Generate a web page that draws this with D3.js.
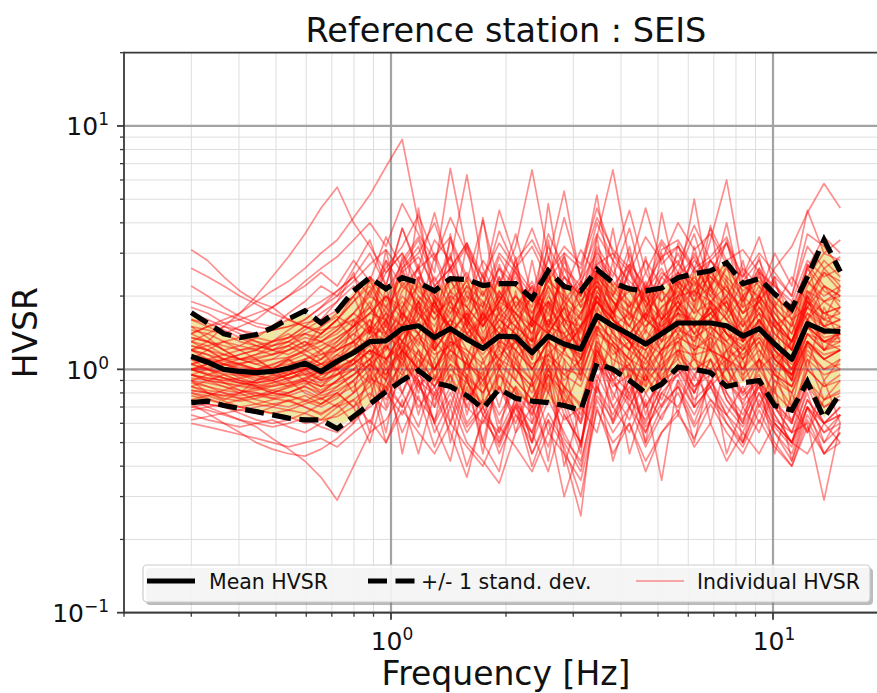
<!DOCTYPE html>
<html><head><meta charset="utf-8">
<script src="https://cdn.jsdelivr.net/npm/d3@7"></script>
<style>body{margin:0;background:#fff} svg{display:block;font-family:"DejaVu Sans",sans-serif}</style>
</head><body><svg id="c" width="877" height="693"></svg>
<script>
const freqs = [0.300,0.331,0.365,0.402,0.444,0.489,0.539,0.595,0.656,0.723,
0.798,0.880,0.970,1.07,1.18,1.30,1.43,1.58,1.74,1.92,
2.12,2.34,2.58,2.84,3.14,3.46,3.81,4.21,4.64,5.11,
5.64,6.22,6.86,7.56,8.34,9.20,10.1,11.2,12.3,13.6,15.0];

const meanHVSR = [1.13,1.07,1.00,0.98,0.97,0.98,1.01,1.06,0.98,1.08,
1.17,1.30,1.31,1.47,1.51,1.35,1.47,1.33,1.22,1.37,
1.36,1.17,1.37,1.27,1.21,1.66,1.51,1.39,1.27,1.40,
1.55,1.55,1.55,1.51,1.37,1.47,1.27,1.10,1.54,1.44,1.43];

const stdUpper = [1.71,1.55,1.40,1.35,1.39,1.48,1.61,1.74,1.55,1.74,
2.10,2.38,2.14,2.38,2.27,2.10,2.36,2.34,2.21,2.25,
2.25,1.95,2.54,2.19,2.10,2.57,2.27,2.14,2.10,2.16,
2.38,2.47,2.54,2.74,2.25,2.36,2.04,1.77,2.40,3.41,2.52];

const stdLower = [0.73,0.74,0.71,0.69,0.67,0.65,0.63,0.62,0.62,0.57,
0.64,0.72,0.81,0.90,0.99,0.88,0.85,0.78,0.69,0.83,
0.76,0.74,0.73,0.71,0.68,1.06,1.00,0.90,0.80,0.87,
1.02,1.00,0.97,0.85,0.88,0.90,0.71,0.68,0.89,0.63,0.80];

const individualHVSR = [
[1.4,1.5,1.6,1.7,1.9,2.1,2.3,2.6,3.0,3.4, 4.2,5.2,6.8,8.8,4.0,2.2,2.6,1.8,1.5,2.0, 1.6,1.2,1.9,1.4,1.0,2.1,1.7,1.3,1.1,1.6, 1.9,1.4,1.8,1.3,1.0,1.5,1.2,0.9,1.6,1.3,1.2],
[1.2,1.3,1.5,1.7,2.0,2.4,2.9,3.6,4.6,5.6, 4.0,3.2,2.5,3.0,2.1,1.8,2.4,1.5,1.9,1.3, 1.7,2.2,1.4,1.8,1.2,2.5,1.9,1.5,2.1,1.3, 1.8,2.3,1.6,2.0,1.4,1.7,1.1,1.3,2.0,1.5,1.8],
[3.1,2.8,2.4,2.1,1.9,1.8,1.6,1.5,1.4,1.6, 1.9,2.3,1.8,2.6,3.2,2.0,1.6,2.4,1.4,1.9, 2.8,1.5,2.1,1.2,1.7,2.4,1.6,3.0,1.9,1.4, 2.2,1.7,2.6,1.9,1.3,2.0,1.6,1.2,1.8,2.5,2.1],
[0.75,0.70,0.66,0.62,0.58,0.52,0.47,0.42,0.36,0.29, 0.40,0.55,0.62,0.80,0.58,0.95,0.70,1.10,0.65,0.85, 0.60,0.90,0.55,0.75,0.48,1.10,0.80,0.62,0.95,0.70, 1.00,0.75,0.88,1.20,0.70,0.85,0.62,0.55,0.90,0.70,0.78],
[0.95,0.90,0.88,0.85,0.83,0.86,0.90,0.80,0.75,0.85, 0.95,1.10,0.90,1.30,0.85,1.00,1.40,0.75,0.95,0.60, 0.85,0.50,1.10,0.45,0.25,0.90,1.30,0.70,1.00,0.85, 1.20,0.90,1.50,1.00,0.80,1.10,0.75,0.60,1.00,0.85,0.95],
[1.0,0.95,0.92,0.90,0.88,0.92,0.98,1.05,1.10,1.20, 1.40,1.25,1.60,1.30,1.80,1.50,2.10,1.40,1.70,2.40, 1.60,2.00,1.50,2.80,1.90,2.30,1.70,2.60,1.80,2.20, 3.00,2.10,2.50,3.30,2.20,2.00,2.60,3.20,4.40,5.80,4.60],
[0.85,0.82,0.80,0.78,0.80,0.76,0.74,0.78,0.72,0.80, 0.90,1.05,0.95,1.20,1.00,0.85,1.15,0.90,0.70,1.00, 0.80,0.65,0.95,0.75,0.60,1.20,0.90,1.05,0.70,0.95, 1.10,0.85,1.00,0.80,0.65,0.90,0.70,0.55,0.60,0.29,0.60],
[1.3,1.2,1.1,1.15,1.2,1.3,1.4,1.25,1.5,1.7, 2.0,2.4,1.9,2.8,3.5,2.5,6.7,3.0,2.0,2.6, 1.8,2.2,1.5,1.9,1.3,2.1,1.6,1.2,1.8,1.4, 2.0,1.5,1.8,1.4,1.1,1.6,1.3,1.0,1.5,1.2,1.4],
[1.6,1.5,1.4,1.3,1.25,1.2,1.3,1.45,1.6,1.9, 2.2,1.8,2.5,3.0,2.3,3.4,2.8,6.3,2.6,1.9, 2.4,1.6,2.9,1.8,1.5,2.7,2.0,1.7,2.3,1.6, 2.5,1.9,2.2,1.6,1.3,1.8,1.5,1.2,1.9,1.6,1.7],
[0.9,0.95,1.0,1.05,1.1,1.0,0.95,1.1,1.2,1.3, 1.5,1.8,1.4,2.1,2.6,1.7,2.3,1.9,2.8,2.2, 3.2,6.6,2.9,2.1,1.6,2.8,2.2,1.8,2.5,1.9, 2.4,2.9,2.0,1.7,2.3,1.8,1.4,1.2,2.1,1.7,1.6],
[1.1,1.05,1.0,0.95,0.9,0.95,1.0,0.9,0.85,0.95, 1.1,1.3,1.6,1.2,1.9,1.4,1.7,2.2,1.5,1.9, 2.5,1.7,2.3,2.9,2.0,3.5,6.6,2.8,2.1,2.6, 1.9,2.6,2.1,1.8,1.4,2.0,1.6,1.3,1.9,1.5,1.4],
[1.2,1.15,1.05,1.0,1.0,1.05,1.1,1.0,1.05,1.15, 1.3,1.5,1.2,1.7,1.4,1.9,1.5,1.3,1.6,2.0, 1.7,1.4,2.2,1.6,1.9,2.5,1.8,2.1,1.6,2.4, 2.8,2.0,3.4,6.0,2.5,1.9,2.3,1.6,1.8,2.2,2.0],
[0.7,0.68,0.65,0.62,0.60,0.58,0.60,0.63,0.58,0.55, 0.62,0.70,0.80,0.65,0.90,0.55,0.75,0.50,0.42,0.34, 0.55,0.70,0.48,0.85,0.60,0.95,0.70,0.55,0.80,0.62, 0.90,0.70,0.85,0.60,0.50,0.75,0.58,0.48,0.70,0.55,0.65],
[0.8,0.78,0.74,0.70,0.68,0.66,0.64,0.60,0.62,0.70, 0.80,0.95,0.75,1.00,0.70,0.85,0.60,0.90,0.65,0.55, 0.75,0.45,0.62,0.30,0.50,0.85,0.65,0.90,0.55,0.80, 0.70,0.95,0.75,0.65,0.85,0.60,0.90,0.70,0.55,0.75,0.80],
[1.0,1.0,0.98,0.96,0.94,0.92,0.95,1.0,1.05,1.1, 1.2,1.35,1.5,1.3,1.7,1.4,1.2,1.6,1.3,1.5, 1.2,1.6,1.9,1.3,1.1,1.8,1.4,1.2,1.5,1.7, 1.4,1.8,1.5,1.3,1.6,1.2,1.0,1.3,1.7,1.4,1.5],
[1.25,1.2,1.1,1.05,1.0,0.98,1.0,1.05,0.95,1.0, 1.05,1.2,1.1,1.4,1.6,1.2,1.5,1.0,1.3,1.1, 1.5,1.0,1.3,1.6,1.2,2.0,1.5,1.3,1.0,1.4, 1.6,1.3,1.9,1.4,1.2,1.5,1.1,0.9,1.4,1.2,1.3],
[0.9,0.85,0.82,0.80,0.82,0.85,0.88,0.92,0.88,0.95, 1.0,1.1,1.25,1.1,1.4,1.0,1.3,1.15,0.9,1.2, 1.0,0.85,1.2,0.95,1.1,1.5,1.2,1.0,0.85,1.1, 1.3,1.1,1.0,1.2,0.9,1.1,0.95,0.8,1.2,1.0,1.1],
[2.2,2.0,1.8,1.65,1.55,1.5,1.6,1.75,1.9,2.1, 2.4,2.0,2.8,2.2,2.6,3.0,2.1,2.5,1.8,2.9, 2.2,1.9,2.6,2.1,3.1,2.4,2.0,2.7,2.2,2.9, 3.2,2.5,2.8,2.3,1.9,2.6,2.0,1.7,2.4,3.0,2.8],
[0.62,0.64,0.66,0.68,0.70,0.72,0.74,0.70,0.66,0.72, 0.80,0.92,0.85,1.05,0.90,0.78,1.00,0.88,0.72,0.95, 0.82,0.70,0.95,0.80,0.65,1.05,0.88,0.75,0.62,0.85, 0.95,1.10,0.85,1.00,0.78,0.90,0.72,0.62,0.85,0.70,0.75],
[1.45,1.4,1.3,1.25,1.2,1.15,1.2,1.3,1.2,1.35, 1.5,1.7,1.6,1.9,1.5,1.3,1.8,1.5,1.2,1.6, 1.4,1.1,1.6,1.4,1.7,2.2,1.7,1.5,1.3,1.8, 2.1,1.7,1.9,1.6,1.4,1.7,1.3,1.1,1.6,1.9,1.7],
[1.1,1.0,0.92,0.88,0.85,0.82,0.80,0.85,0.78,0.82, 0.9,1.05,1.2,1.5,1.3,1.1,1.4,1.7,1.3,1.0, 1.3,1.0,0.8,1.2,1.5,1.9,1.6,1.3,1.1,1.4, 1.7,1.4,1.2,1.5,1.1,1.3,0.95,0.85,1.3,1.1,1.2],
[1.05,1.1,1.15,1.2,1.25,1.3,1.35,1.5,1.4,1.6, 1.9,2.2,1.7,2.5,2.0,1.6,2.1,1.8,2.4,1.7, 2.0,1.6,2.4,1.9,1.6,2.9,2.3,1.9,1.6,2.2, 2.5,2.2,2.8,2.4,2.0,2.3,1.8,1.5,2.6,2.1,1.9],
[0.78,0.75,0.72,0.70,0.72,0.75,0.78,0.82,0.76,0.70, 0.75,0.85,1.00,0.80,1.10,0.75,0.95,0.70,0.60,0.85, 0.65,0.55,0.80,0.62,0.70,1.15,0.85,0.95,0.70,0.90, 1.00,0.80,1.10,0.75,0.62,0.85,0.65,0.50,0.75,0.60,0.70],
[1.35,1.3,1.2,1.1,1.05,1.1,1.2,1.3,1.15,1.25, 1.4,1.6,1.35,1.8,2.2,1.7,1.9,1.4,1.6,2.1, 1.7,1.4,2.0,1.6,1.3,2.0,1.7,2.2,1.6,1.4, 1.8,2.1,1.7,1.9,1.5,1.8,1.4,1.2,1.7,1.5,1.6],
[0.72,0.66,0.60,0.55,0.50,0.47,0.45,0.44,0.47,0.52, 0.60,0.72,0.85,0.70,0.95,0.80,1.05,0.75,0.90,0.65, 0.85,0.70,1.00,0.78,0.62,1.20,0.90,0.70,0.95,0.75, 1.05,0.85,0.95,1.10,0.80,0.95,0.70,0.60,0.90,0.75,0.82],
[1.7,1.6,1.5,1.45,1.4,1.45,1.5,1.6,1.8,2.0, 2.3,2.7,3.1,2.5,2.9,2.2,2.6,3.3,2.4,2.0, 2.6,2.1,1.8,2.4,2.0,3.2,2.5,2.1,2.8,2.2, 2.7,2.3,2.0,2.6,2.1,2.4,1.9,1.6,2.3,2.0,2.2],
[0.95,0.92,0.90,0.92,0.95,1.0,1.08,1.15,1.05,1.2, 1.3,1.15,1.4,1.2,1.0,1.3,1.1,1.5,1.2,1.35, 1.1,1.35,1.0,1.2,0.95,1.4,1.25,1.05,1.3,1.15, 1.4,1.2,1.35,1.1,1.25,1.0,1.15,0.9,1.3,1.1,1.2],
[1.15,1.1,1.05,1.1,1.15,1.2,1.25,1.15,1.05,1.0, 1.1,1.3,1.05,1.5,1.2,1.0,1.35,1.1,0.85,1.3, 1.0,0.8,1.15,0.9,1.1,1.6,1.3,1.1,0.9,1.2, 1.5,1.2,1.4,1.25,1.0,1.3,1.0,0.85,1.25,1.1,1.0],
[1.9,1.8,1.7,1.6,1.5,1.45,1.5,1.55,1.6,1.75, 2.0,2.4,2.1,2.7,3.4,2.3,2.9,2.0,1.8,2.6, 2.2,1.8,3.2,2.4,2.0,2.7,3.0,2.2,1.9,2.5, 2.2,2.8,2.4,2.0,2.6,2.2,1.8,1.5,2.2,2.8,2.4],
[0.68,0.70,0.72,0.75,0.78,0.80,0.84,0.88,0.82,0.90, 1.0,0.88,1.1,0.95,1.2,0.85,1.05,0.92,0.80,1.1, 0.90,0.75,1.05,0.85,0.72,1.25,0.95,0.80,1.10,0.90, 1.15,0.95,1.20,0.90,0.72,1.00,0.80,0.68,1.00,0.85,0.90],
[1.0,1.05,1.1,1.1,1.05,1.0,1.1,1.2,1.3,1.45, 1.7,2.1,2.6,3.2,4.3,2.9,3.5,2.4,2.0,3.0, 2.5,2.0,3.6,2.6,2.2,4.0,2.8,2.3,2.0,3.1, 3.4,2.6,2.9,3.5,2.3,2.8,2.0,1.7,2.7,2.2,2.0],
[0.88,0.85,0.80,0.76,0.72,0.70,0.68,0.66,0.62,0.64, 0.70,0.80,0.68,0.95,0.75,0.62,0.85,0.58,0.70,0.52, 0.72,0.60,0.88,0.52,0.42,0.78,0.62,0.85,0.58,0.72, 0.85,0.65,0.90,0.70,0.58,0.80,0.55,0.45,0.70,0.55,0.60],
[1.3,1.25,1.15,1.1,1.1,1.15,1.25,1.4,1.3,1.2, 1.3,1.45,1.7,1.5,1.9,2.4,1.8,1.6,2.1,1.5, 1.9,1.6,1.4,1.8,2.3,1.9,1.6,1.4,1.7,2.1, 1.8,1.5,1.7,2.0,1.6,1.9,1.5,1.3,1.8,1.6,1.5],
[0.82,0.80,0.78,0.76,0.78,0.82,0.86,0.92,0.98,1.05, 1.15,1.3,1.1,1.25,1.0,1.35,1.6,1.2,1.05,1.4, 1.2,1.0,1.3,1.1,0.9,1.5,1.15,1.3,0.95,1.2, 1.3,1.5,1.2,1.0,1.2,1.35,1.05,0.95,1.4,1.2,1.25],
[1.5,1.45,1.4,1.5,1.6,1.8,2.0,2.3,2.6,2.9, 3.4,4.0,3.2,4.8,3.6,2.8,4.2,3.0,2.4,3.3, 2.6,3.8,2.5,3.2,2.7,4.6,3.0,2.5,3.5,2.8, 4.0,3.1,3.6,2.7,2.4,3.0,2.5,2.0,3.2,2.6,2.9],
[0.60,0.58,0.56,0.54,0.52,0.50,0.48,0.50,0.52,0.48, 0.55,0.62,0.50,0.68,0.55,0.45,0.60,0.48,0.40,0.58, 0.48,0.38,0.55,0.45,0.35,0.68,0.50,0.60,0.42,0.55, 0.65,0.52,0.72,0.55,0.45,0.62,0.48,0.40,0.58,0.45,0.50],
[1.2,1.15,1.1,1.05,1.0,0.95,0.92,0.95,1.0,1.08, 1.2,1.1,1.35,1.6,1.25,1.9,1.4,1.7,1.3,1.6, 1.4,1.25,1.7,1.35,1.5,1.9,1.5,1.7,1.3,1.6, 1.9,1.5,1.7,1.4,1.3,1.6,1.2,1.0,1.5,1.3,1.4],
[1.0,0.96,0.92,0.88,0.86,0.88,0.92,0.96,0.90,0.95, 1.05,1.2,0.95,1.3,1.1,0.9,1.2,1.05,0.95,1.25, 1.05,0.9,1.15,1.35,1.0,1.6,1.3,1.1,1.45,1.2, 1.5,1.3,1.6,1.2,1.1,1.4,1.1,0.95,1.3,1.1,1.2],
[1.1,1.08,1.05,1.02,1.0,1.02,1.05,1.1,1.15,1.2, 1.3,1.5,1.4,1.7,1.5,1.3,1.6,1.4,1.2,1.5, 1.3,1.6,1.4,1.2,1.5,2.0,1.6,1.4,1.7,1.5, 1.9,1.6,2.2,1.8,1.5,1.9,2.4,2.0,3.6,3.2,2.6],
[0.95,0.92,0.9,0.88,0.86,0.85,0.88,0.9,0.85,0.88, 0.95,1.05,0.9,1.2,1.0,0.85,1.1,0.95,0.8,1.05, 0.9,0.75,1.0,0.85,0.7,1.2,0.95,1.05,0.8,1.0, 1.2,1.0,1.1,0.9,0.75,0.9,0.6,0.5,0.7,0.45,0.55],
[1.25,1.2,1.15,1.1,1.12,1.15,1.2,1.25,1.3,1.4, 1.6,1.4,1.8,1.5,2.0,1.7,1.5,2.1,1.7,1.4, 1.8,1.5,2.2,1.7,1.4,2.3,1.9,1.6,2.0,1.7, 2.2,1.8,2.5,2.1,1.7,2.0,3.0,2.2,4.5,3.0,3.4],
[2.6,2.4,2.2,2.0,1.85,1.7,1.6,1.5,1.45,1.5, 1.6,1.8,1.5,2.0,1.7,1.4,1.9,1.6,1.3,1.7, 1.5,1.3,1.8,1.5,1.2,1.9,1.5,1.3,1.6,1.4, 1.7,1.5,1.8,1.4,1.2,1.6,1.3,1.1,1.5,1.3,1.4],
[0.92,0.9,0.88,0.86,0.84,0.8,0.78,0.75,0.72,0.78, 0.85,1.0,0.8,1.1,0.85,0.7,0.95,0.6,0.75,0.5, 0.7,0.55,0.38,0.65,0.5,0.9,0.42,0.7,0.55,0.8, 0.95,0.7,0.85,0.65,0.55,0.8,0.6,0.5,0.75,0.6,0.65],
[1.05,1.0,0.95,0.9,0.88,0.9,0.95,1.0,1.1,1.25, 1.45,1.7,2.0,1.6,2.3,1.8,1.5,2.0,1.6,1.8, 1.5,2.0,1.7,2.4,1.8,2.2,1.7,2.5,1.9,1.6, 2.0,2.4,1.9,1.6,2.0,1.7,1.5,1.3,1.8,1.5,1.6],
[1.1,1.2,1.3,1.2,1.1,1.0,0.9,1.0,1.2,1.0, 1.6,1.0,2.2,1.1,2.4,1.2,2.0,0.9,1.8,1.0, 2.1,1.1,2.6,1.2,2.3,1.4,2.8,1.3,2.2,1.1, 2.5,1.2,2.3,1.0,2.0,1.1,1.9,0.9,2.0,1.2,1.5],
[0.9,0.8,0.75,0.8,0.9,1.0,1.1,0.95,0.85,1.0, 0.8,1.5,0.9,1.8,1.0,2.0,0.85,1.7,0.75,1.9, 0.9,1.6,0.8,2.1,0.9,2.4,1.0,1.9,0.85,2.2, 1.1,2.6,1.2,2.4,0.9,2.1,0.8,1.6,1.0,1.8,1.3],
[1.5,1.35,1.2,1.1,1.15,1.25,1.3,1.2,1.4,1.6, 1.3,2.4,1.5,2.9,1.6,2.2,1.4,3.3,1.5,2.4, 1.3,2.8,1.4,3.0,1.2,3.5,1.6,2.6,1.4,3.0, 1.7,3.2,1.8,2.7,1.5,2.5,1.3,1.9,1.6,2.2,1.8],
[0.7,0.72,0.7,0.68,0.66,0.7,0.75,0.7,0.65,0.72, 0.6,1.0,0.55,1.2,0.65,1.1,0.5,0.95,0.45,1.05, 0.55,0.9,0.42,1.1,0.48,1.3,0.6,1.0,0.5,1.15, 0.65,1.2,0.6,1.1,0.5,0.9,0.45,0.8,0.55,0.9,0.6],
[1.3,1.4,1.5,1.4,1.3,1.25,1.35,1.5,1.7,1.9, 2.5,1.4,3.1,1.6,2.7,1.3,3.6,1.5,2.5,1.2, 2.9,1.3,3.4,1.5,2.2,1.7,3.8,1.6,2.9,1.4, 3.3,1.8,3.9,1.7,2.8,1.5,2.4,1.2,2.7,1.6,2.2],
[1.0,0.95,0.88,0.82,0.78,0.76,0.8,0.86,0.95,1.05, 1.3,0.9,1.6,1.0,1.9,0.9,1.5,1.1,1.7,0.8, 1.4,0.9,1.9,0.8,1.5,1.1,1.8,0.9,1.3,1.0, 1.7,1.1,1.9,1.2,1.4,1.0,1.6,0.7,1.3,0.9,1.1],
[0.85,0.9,0.95,0.9,0.85,0.8,0.85,0.9,0.8,0.9, 1.1,0.75,1.3,0.8,1.2,0.7,1.45,0.65,1.1,0.7, 1.2,0.6,1.35,0.7,1.0,0.8,1.5,0.75,1.2,0.9, 1.4,0.8,1.3,0.85,1.1,0.7,1.0,0.6,1.1,0.75,0.9],
[1.8,1.7,1.55,1.45,1.35,1.3,1.35,1.4,1.5,1.65, 1.5,2.1,1.6,2.6,1.7,2.9,1.9,2.3,1.6,2.7, 1.8,2.3,1.5,2.6,1.8,3.1,2.2,2.7,1.8,2.4, 2.0,3.0,2.2,2.8,1.9,2.5,1.7,1.4,2.0,2.5,2.3],
[0.65,0.62,0.6,0.58,0.6,0.62,0.58,0.55,0.6,0.66, 0.75,0.6,0.9,0.7,1.0,0.6,0.8,0.55,0.7,0.45, 0.65,0.5,0.75,0.55,0.4,0.85,0.6,0.8,0.5,0.7, 0.85,0.6,0.9,0.65,0.5,0.72,0.55,0.42,0.65,0.5,0.58],
[1.05,1.1,1.08,1.04,1.0,1.04,1.12,1.2,1.1,1.3, 1.5,1.9,1.4,2.3,1.8,1.3,2.7,1.6,1.2,2.1, 1.6,1.3,2.5,1.5,1.2,2.6,1.9,1.5,2.2,1.6, 2.3,1.9,2.8,2.2,1.7,2.2,1.6,1.3,2.0,1.7,1.8],
[1.2,1.1,1.0,0.95,0.92,0.9,0.95,1.0,0.9,1.05, 1.2,1.6,1.1,1.4,1.9,1.2,1.5,1.0,1.35,1.7, 1.1,0.9,1.4,1.8,1.1,2.0,1.4,1.2,1.7,1.3, 1.8,1.4,1.6,1.9,1.3,1.6,1.1,0.95,1.5,1.3,1.35],
[1.4,1.3,1.2,1.25,1.35,1.5,1.7,1.9,2.2,2.0, 2.6,3.4,2.2,3.8,2.6,4.4,2.5,3.2,2.2,3.7, 2.6,3.2,2.3,4.2,2.4,3.6,2.8,4.5,2.5,3.4, 2.7,3.9,2.8,3.3,2.4,3.5,2.2,1.8,2.6,3.5,3.0],
[0.8,0.76,0.72,0.7,0.68,0.66,0.68,0.72,0.76,0.8, 0.7,0.5,0.85,0.55,0.78,0.48,0.7,0.4,0.62,0.5, 0.72,0.45,0.66,0.5,0.38,0.75,0.55,0.7,0.48,0.65, 0.8,0.58,0.75,0.6,0.48,0.68,0.5,0.4,0.62,0.45,0.55],
[1.0,1.02,1.04,1.06,1.08,1.1,1.12,1.18,1.25,1.35, 1.5,1.7,2.0,1.7,1.4,1.8,1.5,1.3,1.7,1.4, 1.6,1.2,1.5,1.4,1.1,1.7,1.5,1.3,1.2,1.5, 1.7,1.6,1.4,1.7,1.3,1.5,1.2,1.0,1.4,1.3,1.3],
[0.75,0.78,0.82,0.86,0.9,0.94,0.98,1.02,0.95,1.0, 1.1,1.25,1.0,1.2,1.4,1.0,1.3,1.2,1.0,1.15, 1.3,1.05,1.15,1.0,0.95,1.45,1.25,1.1,1.0,1.2, 1.35,1.25,1.2,1.1,1.0,1.2,0.95,0.85,1.15,1.0,1.05],
[1.6,1.55,1.45,1.35,1.25,1.2,1.25,1.35,1.3,1.45, 1.7,2.0,1.8,2.2,1.9,1.6,2.0,1.8,1.5,1.9, 1.7,1.5,1.9,1.6,1.5,2.2,1.9,1.7,1.5,1.8, 2.0,2.1,1.9,2.2,1.7,1.9,1.6,1.3,1.9,1.7,1.8],
[0.95,1.0,1.05,1.0,0.95,0.9,0.85,0.9,1.0,1.15, 1.05,1.35,1.7,1.3,1.6,1.9,1.4,1.75,1.35,1.1, 1.5,1.3,1.6,1.25,1.45,1.9,1.6,1.4,1.25,1.55, 1.8,1.5,1.7,1.4,1.25,1.45,1.2,1.05,1.6,1.35,1.4],
[1.15,1.1,1.0,0.92,0.88,0.9,0.96,1.0,0.92,1.02, 1.1,1.0,1.25,1.05,1.35,1.15,1.25,1.4,1.1,1.3, 1.2,1.0,1.3,1.15,1.05,1.5,1.35,1.2,1.05,1.3, 1.45,1.35,1.5,1.3,1.15,1.35,1.1,0.95,1.3,1.15,1.2],
[0.9,0.88,0.85,0.82,0.8,0.78,0.8,0.85,0.8,0.85, 0.95,1.1,0.7,1.2,0.8,1.3,0.6,1.1,0.5,0.95, 0.75,0.55,1.0,0.65,0.5,1.1,0.7,0.9,0.6,0.85, 1.05,0.8,1.1,0.75,0.6,0.9,0.65,0.5,0.85,0.6,0.7],
[1.35,1.3,1.25,1.2,1.22,1.25,1.3,1.4,1.35,1.5, 1.7,1.5,2.0,1.8,2.4,2.0,1.7,2.2,1.9,1.6, 2.0,1.7,2.3,2.0,1.7,2.5,2.1,1.8,2.2,1.9, 2.3,2.0,2.4,2.1,1.8,2.0,1.7,1.4,2.1,1.9,2.0],
[1.05,1.0,0.96,0.94,0.95,0.98,1.04,1.1,1.02,1.12, 1.25,1.45,1.3,1.55,1.4,1.2,1.5,1.35,1.15,1.4, 1.3,1.15,1.45,1.25,1.15,1.7,1.5,1.35,1.2,1.45, 1.6,1.55,1.6,1.5,1.35,1.5,1.25,1.1,1.55,1.4,1.45],
[0.82,0.8,0.78,0.8,0.84,0.88,0.92,0.98,0.9,0.96, 1.05,1.2,1.1,1.3,1.15,1.0,1.2,1.05,0.9,1.1, 1.0,0.85,1.1,0.95,0.85,1.3,1.1,1.0,0.9,1.05, 1.2,1.15,1.2,1.1,0.95,1.1,0.9,0.8,1.1,0.95,1.0],
[1.2,1.25,1.3,1.35,1.3,1.2,1.15,1.25,1.4,1.6, 2.0,1.4,2.8,1.6,4.6,1.8,3.0,1.5,4.2,1.7, 2.6,1.5,4.8,1.9,2.4,5.2,2.0,3.2,1.6,4.4, 2.2,5.0,2.1,3.4,1.8,2.9,1.5,1.7,2.3,1.9,2.1],
[0.85,0.8,0.76,0.74,0.76,0.8,0.78,0.74,0.7,0.76, 0.9,0.55,1.1,0.45,0.9,0.6,0.42,0.85,0.5,0.38, 0.8,0.5,0.95,0.4,0.7,0.55,1.0,0.45,0.75,0.35, 0.9,0.5,1.0,0.45,0.7,0.55,0.85,0.42,0.7,0.6,0.65],
[1.0,1.05,1.1,1.15,1.2,1.3,1.45,1.6,1.8,2.1, 2.4,3.0,2.2,3.8,2.5,1.9,3.4,2.3,4.1,2.2, 3.6,2.0,2.8,5.4,2.3,3.0,2.4,3.8,2.1,3.3, 2.5,3.6,2.2,4.0,2.0,2.6,1.8,2.4,1.9,2.6,2.2],
[0.75,0.72,0.7,0.66,0.62,0.6,0.62,0.66,0.72,0.8, 0.7,0.9,0.5,0.75,0.45,0.8,0.55,0.36,0.65,0.48, 0.7,0.4,0.62,0.48,0.3,0.7,0.45,0.6,0.38,0.55, 0.68,0.48,0.6,0.42,0.55,0.45,0.6,0.5,0.45,0.6,0.5],
[1.4,1.5,1.55,1.6,1.7,1.8,2.0,2.2,2.5,2.2, 2.8,2.3,3.5,2.6,3.0,4.0,2.6,3.3,2.2,4.5, 2.8,3.4,2.5,3.0,2.6,4.2,3.1,2.6,4.6,2.7, 3.2,2.6,3.8,2.8,3.1,2.5,2.2,1.9,2.8,2.4,2.6],
[0.95,0.9,0.85,0.8,0.75,0.72,0.7,0.74,0.8,0.9, 1.0,1.2,0.8,1.5,0.9,0.6,1.3,0.7,1.0,0.55, 1.1,0.65,1.3,0.7,0.45,1.4,0.75,1.2,0.65,1.0, 1.3,0.7,1.4,0.8,0.6,1.1,0.7,0.55,0.8,0.5,0.65]
];

const titleText = "Reference station : SEIS";
const xLabelText = "Frequency [Hz]";
const yLabelText = "HVSR";
const xMajorTicks = [1, 10];
const xTickExps = ["0", "1"];
const yMajorTicks = [0.1, 1, 10];
const yTickExps = ["\u22121", "0", "1"];
const legendLabels = ["Mean HVSR", "+/- 1 stand. dev.", "Individual HVSR"];

const svg = d3.select("#c");
const L = 124, R = 888, T = 52.7, B = 612.7;
const x = d3.scaleLog().domain([0.2, 20]).range([L, R]);
const y = d3.scaleLog().domain([0.1, 20]).range([B, T]);
const isMajor = v => Math.abs(Math.log10(v) - Math.round(Math.log10(v))) < 1e-9;
const xMinor = x.ticks().filter(v => !isMajor(v));
const yMinor = y.ticks().filter(v => !isMajor(v));

svg.append("defs").append("clipPath").attr("id","clip")
  .append("rect").attr("x",L).attr("y",T).attr("width",R-L).attr("height",B-T);

const pts = arr => arr.map((v,i)=>[freqs[i], v]).filter(d => d[0] !== undefined);

// fill between std
const area = d3.area().x((d,i)=>x(freqs[i])).y0((d,i)=>y(stdLower[i])).y1((d,i)=>y(stdUpper[i]));
svg.append("path").datum(freqs).attr("d", area).attr("fill","#efe7a3").attr("clip-path","url(#clip)");

// grid
const g = svg.append("g");
g.selectAll(".xm").data(xMinor).join("line")
  .attr("x1",d=>x(d)).attr("x2",d=>x(d)).attr("y1",T).attr("y2",B)
  .attr("stroke","#dedede").attr("stroke-width",1);
g.selectAll(".ym").data(yMinor).join("line")
  .attr("y1",d=>y(d)).attr("y2",d=>y(d)).attr("x1",L).attr("x2",R)
  .attr("stroke","#dedede").attr("stroke-width",1);
g.selectAll(".xM").data(xMajorTicks).join("line")
  .attr("x1",d=>x(d)).attr("x2",d=>x(d)).attr("y1",T).attr("y2",B)
  .attr("stroke","#a3a3a3").attr("stroke-width",2.2);
g.selectAll(".yM").data(yMajorTicks).join("line")
  .attr("y1",d=>y(d)).attr("y2",d=>y(d)).attr("x1",L).attr("x2",R)
  .attr("stroke","#a3a3a3").attr("stroke-width",2.2);

const line = d3.line().x(d=>x(d[0])).y(d=>y(d[1]));
const data = svg.append("g").attr("clip-path","url(#clip)");
data.selectAll(".ind").data(individualHVSR).join("path")
  .attr("d", d => line(pts(d))).attr("fill","none")
  .attr("stroke","#ff0000").attr("stroke-opacity",0.44).attr("stroke-width",1.7)
  .attr("stroke-linejoin","round");
[stdUpper, stdLower].forEach(s => {
  data.append("path").attr("d", line(pts(s))).attr("fill","none")
    .attr("stroke","#000").attr("stroke-width",5.2).attr("stroke-dasharray","19,8.5");
});
data.append("path").attr("d", line(pts(meanHVSR))).attr("fill","none")
  .attr("stroke","#000").attr("stroke-width",5.2).attr("stroke-linejoin","round");

// spines
const sp = svg.append("g").attr("stroke","#3a3a3a").attr("stroke-width",1.8);
sp.append("line").attr("x1",L).attr("x2",L).attr("y1",T-0.9).attr("y2",B+0.9);
sp.append("line").attr("x1",L).attr("x2",R).attr("y1",T).attr("y2",T);
sp.append("line").attr("x1",L).attr("x2",R).attr("y1",B).attr("y2",B);
sp.append("line").attr("x1",R).attr("x2",R).attr("y1",T).attr("y2",B);

// ticks
const tk = svg.append("g").attr("stroke","#3a3a3a");
tk.selectAll(".ytM").data(yMajorTicks).join("line")
  .attr("x1",L-7).attr("x2",L).attr("y1",d=>y(d)).attr("y2",d=>y(d)).attr("stroke-width",1.8);
tk.selectAll(".ytm").data(yMinor).join("line")
  .attr("x1",L-4).attr("x2",L).attr("y1",d=>y(d)).attr("y2",d=>y(d)).attr("stroke-width",1.3);
tk.selectAll(".xtM").data(xMajorTicks).join("line")
  .attr("y1",B).attr("y2",B+7).attr("x1",d=>x(d)).attr("x2",d=>x(d)).attr("stroke-width",1.8);
tk.selectAll(".xtm").data(xMinor).join("line")
  .attr("y1",B).attr("y2",B+4).attr("x1",d=>x(d)).attr("x2",d=>x(d)).attr("stroke-width",1.3);

// tick labels
function powLabel(sel, exp) {
  sel.append("tspan").text("10");
  sel.append("tspan").attr("dy",-10).attr("font-size",17).text(exp);
}
yMajorTicks.forEach((v,i) => {
  const t = svg.append("text").attr("x",109).attr("y",y(v)+9.5)
    .attr("text-anchor","end").attr("font-size",25).attr("fill","#111");
  powLabel(t, yTickExps[i]);
});
xMajorTicks.forEach((v,i) => {
  const t = svg.append("text").attr("x",x(v)+1).attr("y",650)
    .attr("text-anchor","middle").attr("font-size",25).attr("fill","#111");
  powLabel(t, xTickExps[i]);
});

// title & labels
svg.append("text").attr("x",(L+R)/2).attr("y",42).attr("text-anchor","middle")
  .attr("font-size",33.5).attr("fill","#111").text(titleText);
svg.append("text").attr("x",(L+R)/2).attr("y",685).attr("text-anchor","middle")
  .attr("font-size",33).attr("fill","#111").text(xLabelText);
svg.append("text").attr("transform",`translate(37,${(T+B)/2}) rotate(-90)`)
  .attr("text-anchor","middle").attr("font-size",33).attr("fill","#111").text(yLabelText);

// legend
const lg = svg.append("g");
const lx = 143, ly = 565, lw = 727, lh = 37;
lg.append("rect").attr("x",lx+3).attr("y",ly+3).attr("width",lw).attr("height",lh).attr("rx",4)
  .attr("fill","#777").attr("fill-opacity",0.5);
lg.append("rect").attr("x",lx).attr("y",ly).attr("width",lw).attr("height",lh).attr("rx",4)
  .attr("fill","#fff").attr("fill-opacity",0.85).attr("stroke","#cccccc").attr("stroke-width",1.2);
const hy = 581;
const handles = [
  {x1:147, x2:195, stroke:"#000", w:5.2, dash:null, op:1, tx:209},
  {x1:368, x2:416, stroke:"#000", w:5.2, dash:"19,8.5", op:1, tx:421},
  {x1:636, x2:684, stroke:"#ff0000", w:1.7, dash:null, op:0.44, tx:697}
];
handles.forEach((h,i) => {
  lg.append("line").attr("x1",h.x1).attr("x2",h.x2).attr("y1",hy).attr("y2",hy)
    .attr("stroke",h.stroke).attr("stroke-width",h.w).attr("stroke-opacity",h.op)
    .attr("stroke-dasharray",h.dash);
  lg.append("text").attr("x",h.tx).attr("y",589).attr("font-size",20.5).attr("fill","#111")
    .text(legendLabels[i]);
});
</script></body></html>
